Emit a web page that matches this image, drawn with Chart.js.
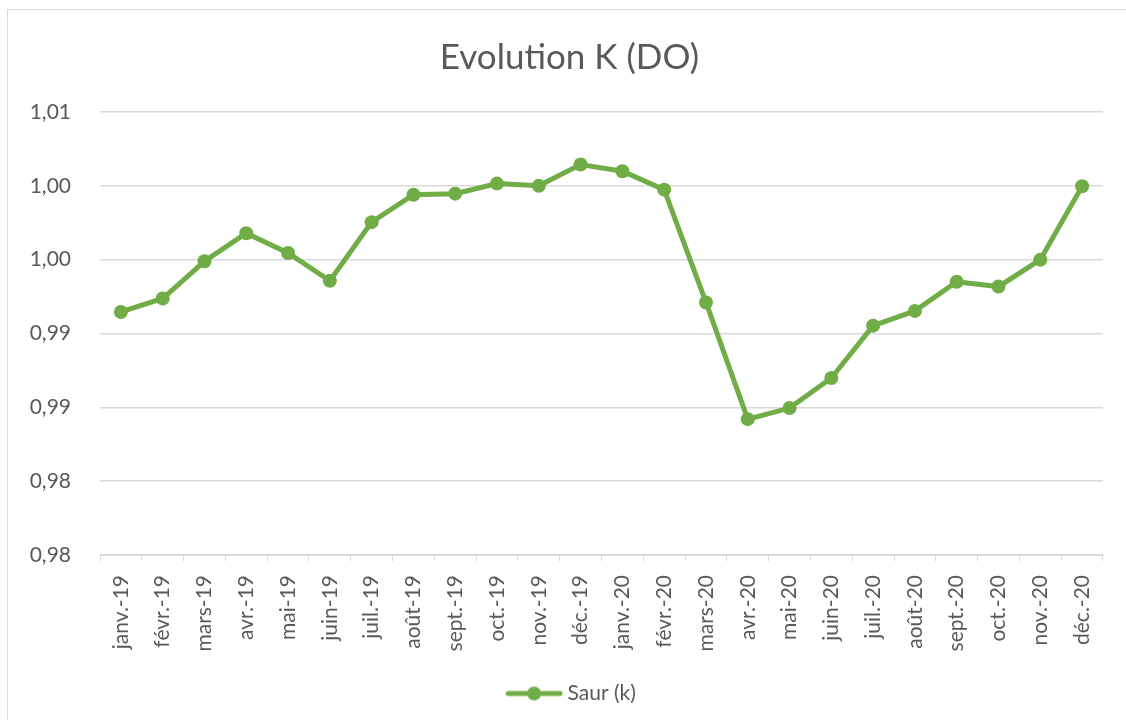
<!DOCTYPE html>
<html>
<head>
<meta charset="utf-8">
<script src="https://cdn.jsdelivr.net/npm/chart.js@4.4.1/dist/chart.umd.min.js"></script>
<style>
  html, body { margin: 0; padding: 0; background: #fff; }
  #frame { position: absolute; left: 7px; top: 9px; width: 1130px; height: 720px; border: 1px solid #d9d9d9; }
  #wrap { position: absolute; left: 0; top: 0; width: 1126px; height: 720px; }
</style>
</head>
<body>
<div id="frame"></div>
<div id="wrap"><canvas id="chart" width="1126" height="720"></canvas></div>
<script>
const months = ['janv.-19', 'févr.-19', 'mars-19', 'avr.-19', 'mai-19', 'juin-19', 'juil.-19', 'août-19',
  'sept.-19', 'oct.-19', 'nov.-19', 'déc.-19', 'janv.-20', 'févr.-20', 'mars-20', 'avr.-20', 'mai-20',
  'juin-20', 'juil.-20', 'août-20', 'sept.-20', 'oct.-20', 'nov.-20', 'déc.-20'];

const saurK = [0.99146, 0.99237, 0.99489, 0.99679, 0.99545, 0.99357, 0.99754, 0.9994,
  0.99947, 1.00015, 1.0000, 1.00144, 1.00099, 0.99974, 0.9921, 0.9842, 0.98495,
  0.98699, 0.99053, 0.99153, 0.9935, 0.99318, 0.995, 0.99997];

// Excel rounds the 0.005 steps to two decimals
const yTickLabels = ['0,98', '0,98', '0,99', '0,99', '1,00', '1,00', '1,01'];

const green = '#70AD47';
const textGrey = '#595959';
const gridGrey = '#d9d9d9';

// legend marker: line with a dot in the middle
const marker = document.createElement('canvas');
marker.width = 58;
marker.height = 16;
const mctx = marker.getContext('2d');
mctx.strokeStyle = green;
mctx.lineWidth = 5;
mctx.lineCap = 'round';
mctx.beginPath();
mctx.moveTo(3, 8);
mctx.lineTo(55, 8);
mctx.stroke();
mctx.fillStyle = green;
mctx.beginPath();
mctx.arc(29, 8, 7, 0, Math.PI * 2);
mctx.fill();

// Excel centres title and legend a bit right of the canvas middle
const shiftBoxes = {
  id: 'shiftBoxes',
  afterLayout(chart) {
    if (chart.titleBlock) { chart.titleBlock.left += 18; chart.titleBlock.right += 18; }
    if (chart.legend) { chart.legend.left += 22; chart.legend.right += 22; }
  },
};

Chart.defaults.font.family = 'Lato, "Open Sans", sans-serif';
Chart.defaults.color = textGrey;

new Chart(document.getElementById('chart').getContext('2d'), {
  type: 'line',
  data: {
    labels: months,
    datasets: [{
      label: 'Saur (k)',
      data: saurK,
      borderColor: green,
      backgroundColor: green,
      borderWidth: 5,
      pointRadius: 7,
      pointHoverRadius: 7,
      pointBackgroundColor: green,
      pointBorderWidth: 0,
      tension: 0,
    }],
  },
  options: {
    responsive: false,
    animation: false,
    layout: { padding: { left: 0, right: 23, top: 0, bottom: 6 } },
    plugins: {
      title: {
        display: true,
        text: 'Evolution K (DO)',
        color: textGrey,
        font: { size: 35, weight: 'normal' },
        padding: { top: 37, bottom: 33 },
      },
      legend: {
        position: 'bottom',
        labels: {
          usePointStyle: true,
          pointStyle: marker,
          pointStyleWidth: 46,
          color: textGrey,
          font: { size: 21 },
          padding: 10,
        },
      },
      tooltip: { enabled: false },
    },
    scales: {
      x: {
        offset: true,
        grid: { display: true, drawOnChartArea: false, offset: true, color: gridGrey, tickLength: 6 },
        border: { color: gridGrey },
        ticks: { minRotation: 90, maxRotation: 90, autoSkip: false, padding: 14, font: { size: 21 }, color: textGrey },
        afterFit: (scale) => { scale.height = 118; },
      },
      y: {
        min: 0.975,
        max: 1.005,
        grid: { color: gridGrey, drawTicks: false, lineWidth: 1.5 },
        border: { display: false },
        ticks: {
          stepSize: 0.005,
          padding: 29,
          font: { size: 21 },
          color: textGrey,
          callback: (value, index) => yTickLabels[index],
        },
        afterFit: (scale) => { scale.width = 100; },
      },
    },
  },
  plugins: [shiftBoxes],
});
</script>
</body>
</html>
